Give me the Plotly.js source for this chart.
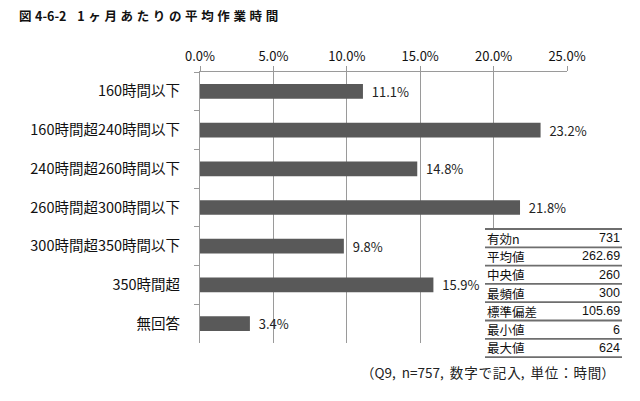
<!DOCTYPE html>
<html>
<head>
<meta charset="utf-8">
<script src="https://cdn.plot.ly/plotly-3.0.1.min.js"></script>
<style>html,body{margin:0;padding:0;background:#fff;}#chart{width:640px;height:401px;}</style>
</head>
<body>
<div id="chart"></div>
<script>
const categories = ['160時間以下','160時間超240時間以下','240時間超260時間以下','260時間超300時間以下','300時間超350時間以下','350時間超','無回答'];
const shares = [11.1, 23.2, 14.8, 21.8, 9.8, 15.9, 3.4];
const xTicks = [0, 5, 10, 15, 20, 25];
const xTickLabels = ['0.0%','5.0%','10.0%','15.0%','20.0%','25.0%'];
const statLabels = ['有効n','平均値','中央値','最頻値','標準偏差','最小値','最大値'];
const statValues = ['731','262.69','260','300','105.69','6','624'];
const titleParts = ['図', '4-6-2', '', '', '1', 'ヶ', '月', 'あ', 'た', 'り', 'の', '平', '均', '作', '業', '時', '間'];
const noteParts = ['（Q9,', 'n=757,', '数\u200a字\u200aで\u200a記\u200a入,', '単\u200a位\u200a：\u200a時\u200a間）'];

const W = 640, H = 401;
const M = {l: 200, r: 73, t: 72, b: 58};
const pw = W - M.l - M.r, ph = H - M.t - M.b;
const px = x => (x - M.l) / pw;
const py = y => (H - M.b - y) / ph;

const FONT = '"Noto Sans CJK JP", "Noto Sans", sans-serif';

const trace = {
  type: 'bar',
  orientation: 'h',
  y: categories,
  x: shares,
  marker: {color: '#595959', line: {width: 0}},
  width: 0.38,
  text: shares.map(v => v.toFixed(1) + '%'),
  texttemplate: '  %{text}',
  textposition: 'outside',
  constraintext: 'none',
  cliponaxis: false,
  textfont: {family: FONT, size: 13, color: '#222'},
  hoverinfo: 'none'
};

const shapes = [];
const annotations = [];
const tTop = 229, rowH = 18.3, tL = 485, tR = 622;
shapes.push({type: 'rect', xref: 'paper', yref: 'paper', x0: px(tL), x1: px(tR), y0: py(tTop + rowH * statLabels.length + 1), y1: py(tTop - 1), fillcolor: '#fff', line: {width: 0}, layer: 'above'});
for (let i = 0; i <= statLabels.length; i++) {
  const yy = tTop + rowH * i;
  shapes.push({type: 'line', xref: 'paper', yref: 'paper', x0: px(tL), x1: px(tR), y0: py(yy), y1: py(yy), line: {color: '#6e6e6e', width: 1.8}, layer: 'above'});
}
statLabels.forEach((lab, i) => {
  const yc = tTop + rowH * i + rowH / 2;
  annotations.push({xref: 'paper', yref: 'paper', x: px(tL + 1), y: py(yc), text: lab, showarrow: false, xanchor: 'left', yanchor: 'middle', borderpad: 0, font: {family: FONT, size: 12.5, color: '#111'}});
  annotations.push({xref: 'paper', yref: 'paper', x: px(tR - 1), y: py(yc), text: statValues[i], showarrow: false, xanchor: 'right', yanchor: 'middle', borderpad: 0, font: {family: '"Liberation Sans", Arial, sans-serif', size: 12.5, color: '#111'}});
});
const titleText = titleParts.join('\u00a0\u200a');
annotations.push({xref: 'paper', yref: 'paper', x: px(17), y: py(16), text: '<b>' + titleText + '</b>', showarrow: false, xanchor: 'left', yanchor: 'middle', font: {family: '"Noto Sans CJK JP", sans-serif', size: 12.5, color: '#111'}});
annotations.push({xref: 'paper', yref: 'paper', x: px(617), y: py(372), text: noteParts.join('\u00a0\u00a0'), showarrow: false, xanchor: 'right', yanchor: 'middle', font: {family: '"Noto Sans CJK JP", sans-serif', size: 13.5, color: '#222'}});

const layout = {
  width: W, height: H,
  margin: M,
  paper_bgcolor: '#fff', plot_bgcolor: '#fff',
  showlegend: false,
  bargap: 0.62,
  font: {family: FONT, size: 13, color: '#111'},
  xaxis: {
    side: 'top', range: [0, 25], tickvals: xTicks, ticktext: xTickLabels,
    showgrid: true, gridcolor: '#9a9a9a', gridwidth: 1,
    showline: true, linecolor: '#9a9a9a', linewidth: 1,
    ticks: 'outside', ticklen: 5, tickcolor: '#9a9a9a',
    zeroline: false, fixedrange: true,
    tickfont: {family: FONT, size: 13, color: '#111'}
  },
  yaxis: {
    autorange: 'reversed', type: 'category',
    showline: true, linecolor: '#9a9a9a', linewidth: 1, mirror: false,
    ticks: 'outside', ticklen: 5, tickcolor: '#9a9a9a', tickson: 'boundaries',
    showgrid: false, zeroline: false, fixedrange: true,
    ticklabelstandoff: 16,
    tickfont: {family: FONT, size: 14.5, color: '#111'}
  },
  shapes: shapes,
  annotations: annotations
};

Plotly.newPlot('chart', [trace], layout, {displayModeBar: false, staticPlot: true});
</script>
</body>
</html>
